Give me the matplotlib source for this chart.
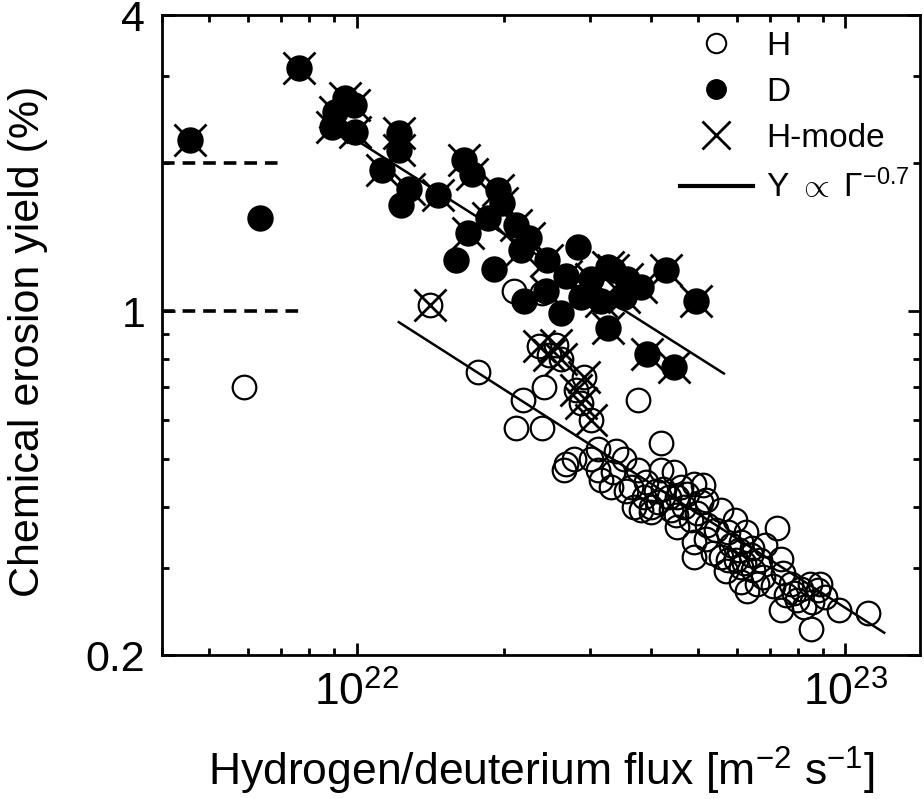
import numpy as np
import matplotlib
matplotlib.use("Agg")
import matplotlib.pyplot as plt
from matplotlib.lines import Line2D
from matplotlib.ticker import FixedLocator, NullFormatter

plt.rcParams['font.family'] = ['Liberation Sans', 'DejaVu Sans']
plt.rcParams['mathtext.fontset'] = 'custom'
plt.rcParams['mathtext.rm'] = 'Liberation Sans'
plt.rcParams['mathtext.it'] = 'Liberation Sans:italic'

# flux in units of 1e22 m^-2 s^-1, yield in %
# H, L-mode (open circles)
h_flux = [0.588, 1.77, 2.19, 2.42, 2.12, 2.40, 2.10, 2.39, 2.68, 2.66, 2.79, 3.12,
          3.12, 3.52, 3.76, 4.19, 3.76, 3.64, 3.69, 3.87, 4.13, 4.46, 4.90, 4.24,
          4.52, 4.39, 4.67, 4.52, 4.98, 5.22, 5.56, 5.93, 5.76, 6.11, 4.90, 4.90,
          5.37, 5.76, 6.11, 4.00, 3.82, 7.23, 5.12, 6.05, 5.56, 6.19, 6.11, 6.58,
          6.46, 6.77, 7.37, 7.45, 7.10, 7.72, 7.37, 7.97, 8.48, 8.77, 8.21, 8.56,
          8.52, 9.68, 11.1, 7.84, 8.89, 3.16, 3.31, 3.02, 3.39, 5.18, 4.83, 5.43,
          6.40, 6.83, 5.18, 4.61, 4.19, 3.90, 4.10, 4.35, 4.75, 4.00, 4.50, 5.06,
          3.34, 3.56, 5.82, 6.25, 6.45, 5.97, 6.70, 6.30, 5.70, 8.10, 9.10, 7.55]
h_yield = [0.70, 0.752, 0.66, 0.70, 0.58, 0.58, 1.10, 1.09, 0.49, 0.475, 0.50, 0.475,
           0.525, 0.50, 0.66, 0.54, 0.475, 0.44, 0.40, 0.42, 0.41, 0.47, 0.445, 0.435,
           0.42, 0.394, 0.40, 0.365, 0.389, 0.368, 0.394, 0.376, 0.355, 0.339, 0.316, 0.339,
           0.322, 0.312, 0.302, 0.40, 0.394, 0.363, 0.443, 0.327, 0.316, 0.307, 0.281, 0.279,
           0.298, 0.288, 0.314, 0.293, 0.276, 0.279, 0.247, 0.259, 0.279, 0.271, 0.250, 0.256,
           0.226, 0.247, 0.243, 0.267, 0.279, 0.454, 0.44, 0.50, 0.52, 0.413, 0.376, 0.359,
           0.32, 0.335, 0.345, 0.44, 0.475, 0.45, 0.43, 0.42, 0.425, 0.39, 0.385, 0.41,
           0.47, 0.43, 0.335, 0.355, 0.33, 0.312, 0.312, 0.27, 0.296, 0.272, 0.263, 0.265]

# H, H-mode
hh_flux = [1.41, 2.36, 2.48, 2.56, 2.62, 2.81, 2.92, 2.88, 3.02]
hh_yield = [1.03, 0.85, 0.815, 0.855, 0.80, 0.69, 0.735, 0.65, 0.60]

# D, L-mode (filled circles)
d_flux = [0.634, 1.235, 1.60, 1.91, 2.20, 2.62, 2.84]
d_yield = [1.55, 1.64, 1.27, 1.22, 1.05, 0.99, 1.35]

# D, H-mode
dh_flux = [0.456, 0.761, 0.945, 0.986, 0.902, 0.889, 0.995, 1.224, 1.224, 1.13,
           1.28, 1.47, 1.66, 1.72, 1.98, 1.95, 1.69, 1.86, 2.12, 2.17, 2.25, 2.45,
           2.44, 2.68, 2.88, 3.02, 3.16, 3.27, 3.35, 3.57, 3.53, 3.82, 4.29, 4.94,
           3.27, 3.92, 4.45]
dh_yield = [2.23, 3.12, 2.71, 2.63, 2.54, 2.37, 2.31, 2.30, 2.13, 1.94,
            1.77, 1.72, 2.03, 1.90, 1.66, 1.76, 1.44, 1.55, 1.50, 1.33, 1.41, 1.27,
            1.10, 1.18, 1.07, 1.16, 1.05, 1.23, 1.21, 1.16, 1.07, 1.12, 1.21, 1.05,
            0.925, 0.82, 0.77]

# fitted power laws (end points)
fit_h_flux = [1.22, 12.0]
fit_h_yield = [0.95, 0.222]
fit_d_flux = [0.87, 5.64]
fit_d_yield = [2.43, 0.747]

# dashed reference levels
ref_levels = [2.0, 1.0]
ref_ends = [0.71, 0.78]

fig = plt.figure(figsize=(9.24, 7.99), dpi=100)
ax = fig.add_axes([0.1753, 0.1802, 0.8203, 0.801])
ax.set_xscale('log')
ax.set_yscale('log')
xmin, xmax = 4.0e21, 1.42e23
ax.set_xlim(xmin, xmax)
ax.set_ylim(0.2, 4)

s = 1e22
for lvl, end in zip(ref_levels, ref_ends):
    ax.plot([xmin, end * s], [lvl, lvl], ls=(0, (3.5, 2.2)), color='k', lw=2.6, zorder=2)

ax.plot(np.array(fit_h_flux) * s, fit_h_yield, color='k', lw=1.8, zorder=2)
ax.plot(np.array(fit_d_flux) * s, fit_d_yield, color='k', lw=1.8, zorder=2)

ax.plot(np.array(h_flux) * s, h_yield, 'o', ms=17, mfc='none', mec='k', mew=1.6, zorder=3)
ax.plot(np.array(hh_flux) * s, hh_yield, 'o', ms=17, mfc='none', mec='k', mew=1.6, zorder=3)
ax.plot(np.array(d_flux) * s, d_yield, 'o', ms=18, mfc='k', mec='k', zorder=4)
ax.plot(np.array(dh_flux) * s, dh_yield, 'o', ms=18, mfc='k', mec='k', zorder=4)
ax.plot(np.array(hh_flux + dh_flux) * s, hh_yield + dh_yield, 'x', ms=23, mec='k', mew=2.0, zorder=5)

# axes styling
for sp in ax.spines.values():
    sp.set_linewidth(2.0)
ax.set_xticks([1e22, 1e23])
ax.set_xticklabels([r'$10^{22}$', r'$10^{23}$'])
ax.xaxis.set_minor_locator(FixedLocator([k * 10.0 ** e for e in (21, 22) for k in range(2, 10)]))
ax.xaxis.set_minor_formatter(NullFormatter())
ax.set_yticks([0.2, 1, 4])
ax.set_yticklabels(['0.2', '1', '4'])
ax.yaxis.set_minor_locator(FixedLocator([0.3, 0.4, 0.5, 0.6, 0.7, 0.8, 0.9, 2, 3]))
ax.yaxis.set_minor_formatter(NullFormatter())
ax.tick_params(which='both', direction='in', top=True, right=True, width=2.0)
ax.tick_params(which='major', length=9)
ax.tick_params(which='minor', length=5)
ax.tick_params(axis='x', which='major', labelsize=32, pad=12)
ax.tick_params(axis='y', which='major', labelsize=31, pad=12)

ax.set_xlabel(r'Hydrogen/deuterium flux [m$^{-2}$ s$^{-1}$]', fontsize=32)
ax.set_ylabel('Chemical erosion yield (%)', fontsize=31)
ax.xaxis.set_label_coords(0.5, -0.14)
ax.yaxis.set_label_coords(-0.15, 0.49)

handles = [
    Line2D([], [], ls='none', marker='o', ms=14, mfc='none', mec='k', mew=1.5),
    Line2D([], [], ls='none', marker='o', ms=14, mfc='k', mec='k'),
    Line2D([], [], ls='none', marker='x', ms=20, mec='k', mew=2.0),
    Line2D([], [], color='k', lw=3),
]
labels = ['H', 'D', 'H-mode', r'Y $\propto$ $\Gamma^{-0.7}$']
ax.legend(handles, labels, loc='upper left', bbox_to_anchor=(0.683, 0.975),
          frameon=False, fontsize=24, handlelength=2.2, handletextpad=0.4,
          labelspacing=0.45, borderpad=0, borderaxespad=0)

fig.savefig('out.png', dpi=100)
plt.close(fig)
